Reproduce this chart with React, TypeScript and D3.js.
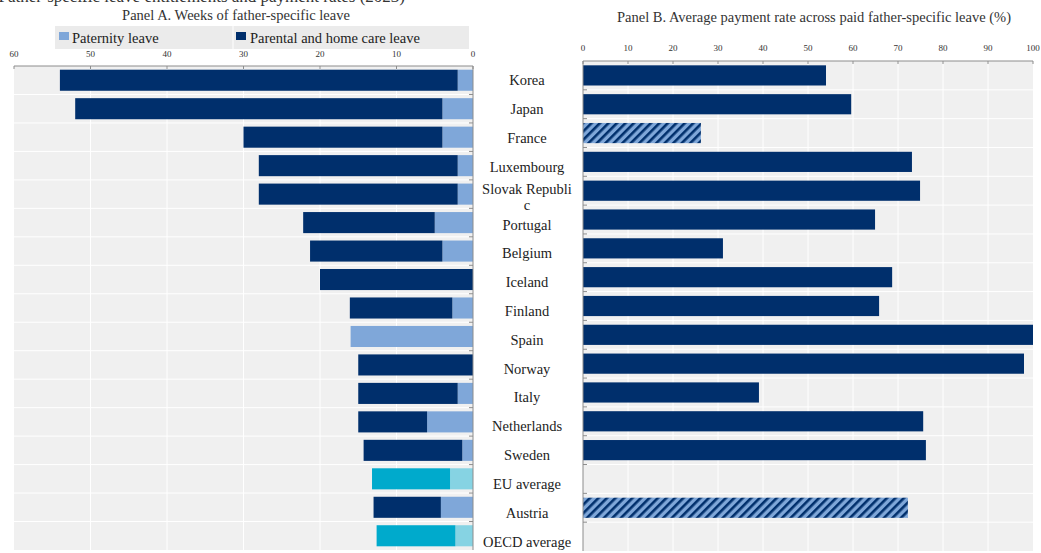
import React from "react";
import * as d3 from "d3";

const countries = ["Korea","Japan","France","Luxembourg","Slovak Republic","Portugal","Belgium","Iceland","Finland","Spain","Norway","Italy","Netherlands","Sweden","EU average","Austria","OECD average"];
const labelLines = [["Korea"],["Japan"],["France"],["Luxembourg"],["Slovak Republi","c"],["Portugal"],["Belgium"],["Iceland"],["Finland"],["Spain"],["Norway"],["Italy"],["Netherlands"],["Sweden"],["EU average"],["Austria"],["OECD average"]];
const paternityWeeks = [2, 4, 4, 2, 2, 5, 4, 0, 2.7, 16, 0, 2, 6, 1.4, 3, 4.2, 2.3];
const parentalWeeks = [52, 48, 26, 26, 26, 17.2, 17.3, 20, 13.4, 0, 15, 13, 9, 12.9, 10.2, 8.8, 10.3];
const paymentRate: (number | null)[] = [54, 59.6, 26.2, 73.1, 74.9, 64.9, 31.1, 68.7, 65.8, 100, 98, 39.1, 75.6, 76.2, null, 72.2, null];
const hatched = ["France", "Austria"];
const averages = ["EU average", "OECD average"];
const weekTicks = [60, 50, 40, 30, 20, 10, 0];
const rateTicks = [0, 10, 20, 30, 40, 50, 60, 70, 80, 90, 100];

const NAVY = "#002F6C";
const LIGHT = "#7FA7D9";
const TEAL = "#00AACC";
const LTEAL = "#86D3E3";
const BG = "#F0F0F0";
const AXIS = "#8C8C8C";
const SERIF = "'Liberation Serif', 'Times New Roman', serif";

export default function App() {
  const W = 1041, H = 553;
  const xA = d3.scaleLinear().domain([60, 0]).range([14, 473]);
  const yA = d3.scaleBand().domain(countries).range([66, 550]).paddingInner(0.26).paddingOuter(0.13);
  const xB = d3.scaleLinear().domain([0, 100]).range([583, 1033]);
  const yB = d3.scaleBand().domain(countries).range([61, 551]).paddingInner(0.3).paddingOuter(0.15);
  const stepA = yA.step();
  const stepB = yB.step();
  const bandStartA = (i: number) => 66 + i * stepA;
  const bandStartB = (i: number) => 61 + i * stepB;

  return (
    <svg width={W} height={H} style={{ position: "absolute", left: 0, top: 0, background: "#fff" }}>
      <defs>
        <pattern id="hatch" patternUnits="userSpaceOnUse" width="6" height="6" patternTransform="rotate(45)">
          <rect width="6" height="6" fill={LIGHT} />
          <rect width="2.6" height="6" fill={NAVY} />
        </pattern>
      </defs>
      {/* cut-off figure title */}
      <text x={405} y={2} textAnchor="end" fontFamily={SERIF} fontSize={17} fill="#333">
        Figure 2. Father-specific leave entitlements and payment rates (2023)
      </text>

      {/* Panel A */}
      <text x={236} y={20} textAnchor="middle" fontFamily={SERIF} fontSize={14.5} fill="#333">Panel A. Weeks of father-specific leave</text>
      <rect x={55} y={26} width={414} height={23} fill="#EBEBEB" />
      <line x1={233} x2={233} y1={26} y2={49} stroke="#fff" strokeWidth={1} />
      <rect x={59} y={32} width={10} height={8} fill={LIGHT} />
      <text x={72} y={42.5} fontFamily={SERIF} fontSize={14.5} fill="#222">Paternity leave</text>
      <rect x={236} y={32} width={10} height={8} fill={NAVY} />
      <text x={250} y={42.5} fontFamily={SERIF} fontSize={14.5} fill="#222">Parental and home care leave</text>

      <rect x={14} y={66} width={459} height={484} fill={BG} />
      {weekTicks.filter(t => t !== 0 && t !== 60).map(t => (
        <line key={"ga" + t} x1={xA(t)} x2={xA(t)} y1={66} y2={550} stroke="#fff" strokeWidth={1} />
      ))}
      {countries.map((c, i) => i > 0 ? (
        <line key={"ha" + c} x1={14} x2={473} y1={bandStartA(i)} y2={bandStartA(i)} stroke="#fff" strokeWidth={1} />
      ) : null)}
      {countries.map((c, i) => {
        const isAvg = averages.includes(c);
        const p = paternityWeeks[i], q = parentalWeeks[i];
        const y = yA(c)!, h = yA.bandwidth();
        return (
          <g key={"ba" + c}>
            {p > 0 && <rect x={xA(p)} y={y} width={xA(0) - xA(p)} height={h} fill={isAvg ? LTEAL : LIGHT} />}
            {q > 0 && <rect x={xA(p + q)} y={y} width={xA(p) - xA(p + q)} height={h} fill={isAvg ? TEAL : NAVY} />}
          </g>
        );
      })}
      <line x1={14} x2={473} y1={66} y2={66} stroke={AXIS} strokeWidth={1} />
      <line x1={473} x2={473} y1={66} y2={550} stroke={AXIS} strokeWidth={1} />
      {weekTicks.map(t => (
        <g key={"ta" + t}>
          <line x1={xA(t)} x2={xA(t)} y1={66} y2={69} stroke={AXIS} />
          <text x={xA(t)} y={57} textAnchor="middle" fontFamily={SERIF} fontSize={9} fill="#333">{t}</text>
        </g>
      ))}
      {countries.map((c, i) => i > 0 ? (
        <line key={"tka" + c} x1={469} x2={473} y1={bandStartA(i)} y2={bandStartA(i)} stroke={AXIS} />
      ) : null)}

      {/* Category labels */}
      {countries.map((c, i) => {
        const lines = labelLines[i];
        const cy = yB(c)! + yB.bandwidth() / 2;
        if (lines.length === 1) {
          return <text key={"l" + c} x={527} y={cy + 10} textAnchor="middle" fontFamily={SERIF} fontSize={14.5} fill="#222">{lines[0]}</text>;
        }
        return (
          <text key={"l" + c} x={527} y={cy + 3.5} textAnchor="middle" fontFamily={SERIF} fontSize={14.5} fill="#222">
            <tspan x={527}>{lines[0]}</tspan>
            <tspan x={527} dy={16}>{lines[1]}</tspan>
          </text>
        );
      })}

      {/* Panel B */}
      <text x={814} y={22} textAnchor="middle" fontFamily={SERIF} fontSize={14.5} fill="#333">Panel B. Average payment rate across paid father-specific leave (%)</text>
      <rect x={583} y={61} width={450} height={490} fill={BG} />
      {rateTicks.filter(t => t !== 0 && t !== 100).map(t => (
        <line key={"gb" + t} x1={xB(t)} x2={xB(t)} y1={61} y2={551} stroke="#fff" strokeWidth={1} />
      ))}
      {countries.map((c, i) => i > 0 ? (
        <line key={"hb" + c} x1={583} x2={1033} y1={bandStartB(i)} y2={bandStartB(i)} stroke="#fff" strokeWidth={1} />
      ) : null)}
      {countries.map((c, i) => {
        const v = paymentRate[i];
        if (v == null) return null;
        return <rect key={"bb" + c} x={xB(0)} y={yB(c)!} width={xB(v) - xB(0)} height={yB.bandwidth()} fill={hatched.includes(c) ? "url(#hatch)" : NAVY} />;
      })}
      <line x1={583} x2={1033} y1={61} y2={61} stroke={AXIS} strokeWidth={1} />
      <line x1={583} x2={583} y1={61} y2={551} stroke={AXIS} strokeWidth={1} />
      {rateTicks.map(t => (
        <g key={"tb" + t}>
          <line x1={xB(t)} x2={xB(t)} y1={61} y2={64} stroke={AXIS} />
          <text x={xB(t)} y={51} textAnchor="middle" fontFamily={SERIF} fontSize={9} fill="#333">{t}</text>
        </g>
      ))}
      {countries.map((c, i) => i > 0 ? (
        <line key={"tkb" + c} x1={583} x2={587} y1={bandStartB(i)} y2={bandStartB(i)} stroke={AXIS} />
      ) : null)}
    </svg>
  );
}
